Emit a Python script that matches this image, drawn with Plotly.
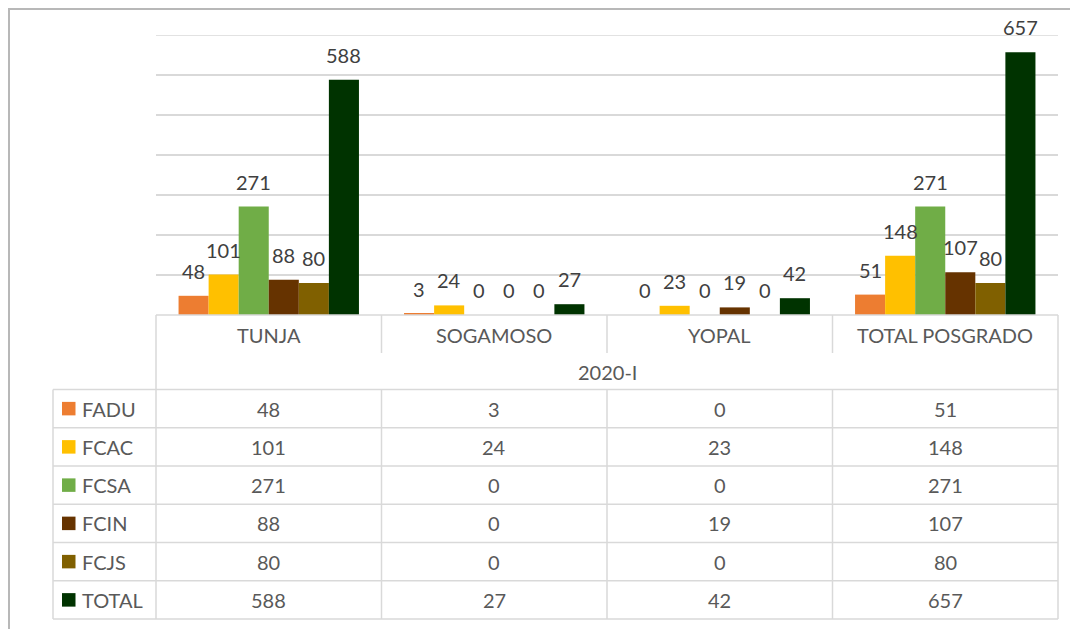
import plotly.graph_objects as go

categories = ["TUNJA", "SOGAMOSO", "YOPAL", "TOTAL POSGRADO"]
period = "2020-I"
series_names = ["FADU", "FCAC", "FCSA", "FCIN", "FCJS", "TOTAL"]
FADU = [48, 3, 0, 51]
FCAC = [101, 24, 23, 148]
FCSA = [271, 0, 0, 271]
FCIN = [88, 0, 19, 107]
FCJS = [80, 0, 0, 80]
TOTAL = [588, 27, 42, 657]
series_values = [FADU, FCAC, FCSA, FCIN, FCJS, TOTAL]
colors = ["#ED7D31", "#FFC000", "#70AD47", "#663300", "#806000", "#003300"]
y_max = 700
y_step = 100

W, H = 1078, 629
OFF = 8  # page offset of the figure (default body margin)
# plot area in page pixels
PL, PR, PT, PB = 156, 1058, 35, 315
L = PL - OFF
T = PT - OFF
PW = PR - PL
PH = PB - PT
R = W - L - PW
B = H - T - PH
FONT = "Lato, Carlito, 'Open Sans', sans-serif"
FS = 20
GRID = "#d9d9d9"
TXT = "#595959"
LBL = "#404040"


def px(x):
    return (x - PL) / PW


def py(y):
    return (PB - y) / PH


fig = go.Figure()
nser = len(series_names)
bargap = 0.2
for i, (name, vals, col) in enumerate(zip(series_names, series_values, colors)):
    fig.add_trace(go.Bar(
        name=name, x=categories, y=vals, marker=dict(color=col, line=dict(width=0)),
        showlegend=False, hoverinfo="x+y+name",
    ))

annotations = []
shapes = []
# data labels above bars
slot = (1 - bargap) / nser
for i, vals in enumerate(series_values):
    for j, v in enumerate(vals):
        annotations.append(dict(
            x=j + (i - (nser - 1) / 2) * slot, xref="x", y=v, yref="y",
            text=str(v), showarrow=False, yanchor="middle", yshift=25,
            font=dict(family=FONT, size=FS, color=LBL),
        ))

# top gridline (at the range edge)
shapes.append(dict(type="line", xref="paper", yref="y", x0=0, x1=1, y0=y_max, y1=y_max,
                   line=dict(color=GRID, width=1.5), layer="below"))

# table geometry (page pixels)
top = PB
cat_bottom = 353
period_bottom = 389.5
bottom = 619
leg_left = 53
right = PR
ncat = len(categories)
colw = PW / ncat
rowh = (bottom - period_bottom) / nser
line = dict(color=GRID, width=1.5)

def hline(y, x0, x1):
    shapes.append(dict(type="line", xref="paper", yref="paper", x0=px(x0), x1=px(x1),
                       y0=py(y), y1=py(y), line=line, layer="above"))

def vline(x, y0, y1):
    shapes.append(dict(type="line", xref="paper", yref="paper", x0=px(x), x1=px(x),
                       y0=py(y0), y1=py(y1), line=line, layer="above"))

hline(top, PL, right)
vline(PL, top, bottom)
vline(right, top, bottom)
for j in range(1, ncat):
    vline(PL + j * colw, top, cat_bottom)
    vline(PL + j * colw, period_bottom, bottom)
vline(leg_left, period_bottom, bottom)
for k in range(nser + 1):
    hline(period_bottom + k * rowh, leg_left, right)

# category labels
for j, c in enumerate(categories):
    annotations.append(dict(x=j, xref="x", y=py(335), yref="paper", text=c, showarrow=False,
                            yanchor="middle", font=dict(family=FONT, size=FS, color=TXT)))
annotations.append(dict(x=px((PL + right) / 2), xref="paper", y=py(372), yref="paper", text=period,
                        showarrow=False, yanchor="middle", font=dict(family=FONT, size=FS, color=TXT)))

# table rows
for i, (name, vals, col) in enumerate(zip(series_names, series_values, colors)):
    cy = period_bottom + (i + 0.5) * rowh
    shapes.append(dict(type="rect", xref="paper", yref="paper", x0=px(62), x1=px(75.5),
                       y0=py(cy - 6.75), y1=py(cy + 6.75), fillcolor=col, line=dict(width=0)))
    annotations.append(dict(x=px(80), xref="paper", y=py(cy), yref="paper", text=name, showarrow=False,
                            xanchor="left", yanchor="middle", font=dict(family=FONT, size=FS, color=TXT)))
    for j, v in enumerate(vals):
        annotations.append(dict(x=j, xref="x", y=py(cy), yref="paper", text=str(v), showarrow=False,
                                yanchor="middle", font=dict(family=FONT, size=FS, color=TXT)))

# outer chart border (left and top visible)
shapes.append(dict(type="line", xref="paper", yref="paper", x0=px(9), x1=px(9), y0=py(9), y1=py(650),
                   line=dict(color="#b8b8b8", width=2)))
shapes.append(dict(type="line", xref="paper", yref="paper", x0=px(8), x1=px(1100), y0=py(9), y1=py(9),
                   line=dict(color="#b8b8b8", width=2)))

fig.update_layout(
    width=W, height=H,
    margin=dict(l=L, r=R, t=T, b=B, autoexpand=False),
    paper_bgcolor="white", plot_bgcolor="white",
    barmode="group", bargap=bargap, bargroupgap=0,
    font=dict(family=FONT, size=FS, color=TXT),
    xaxis=dict(showticklabels=False, showgrid=False, zeroline=False, showline=False, ticks="",
               range=[-0.5, ncat - 0.5]),
    yaxis=dict(range=[0, y_max], dtick=y_step, showticklabels=False, showgrid=True, gridcolor=GRID,
               gridwidth=1.5, zeroline=False, showline=False, ticks=""),
    annotations=annotations, shapes=shapes,
    showlegend=False,
)

fig.write_html("out.html")
